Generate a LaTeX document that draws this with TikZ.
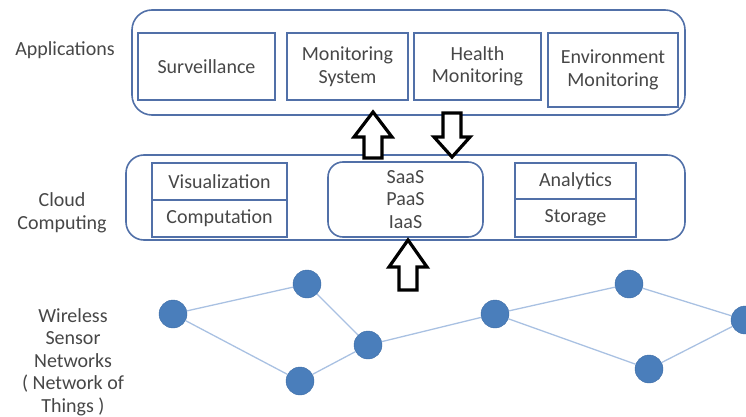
\documentclass[tikz,border=0pt]{standalone}
\usepackage{fontspec}
\setmainfont{Carlito}
\usetikzlibrary{shapes.misc}

\definecolor{boxblue}{HTML}{5170A8}
\definecolor{nodeblue}{HTML}{4A7EBB}
\definecolor{nodeedge}{HTML}{3D6CA5}
\definecolor{linkblue}{HTML}{A9C1E2}
\definecolor{textgray}{HTML}{474747}

\begin{document}
\begin{tikzpicture}[%
        x=1pt, y=-1pt,
        layer/.style={
            % the shape:
            rectangle,
            rounded corners=20pt,
            % the rest:
            draw=boxblue,
            line width=1.6pt,
            inner sep=0pt,
        },
        app/.style={
            rectangle,
            draw=boxblue,
            line width=1.6pt,
            align=center,
            inner sep=0pt,
        },
        sensor/.style={
            circle,
            fill=nodeblue,
            draw=nodeedge,
            minimum size=28pt,
            inner sep=0pt,
        },
        link/.style={draw=linkblue, line width=1.3pt},
        blockarrow/.style={draw=black, line width=3.2pt, fill=white, line join=miter},
        tag/.style={align=center},
        font=\fontsize{20}{22.5}\selectfont, text=textgray
    ]
    \useasboundingbox (0,0) rectangle (746,417);

    % applications
    \node[tag] (appstag) at (65,50) {Applications};
    \node[layer, minimum width=553pt, minimum height=105pt] (apps) at (408.5,62.5) {};
    \node[app, minimum width=137pt, minimum height=67pt] (surv) at (206.5,66.5) {Surveillance};
    \node[app, minimum width=121pt, minimum height=67pt] (monsys) at (347.5,66.5) {Monitoring\\System};
    \node[app, minimum width=127pt, minimum height=67pt] (health) at (477.5,66.5) {Health\\Monitoring};
    \node[app, minimum width=130pt, minimum height=74pt] (envmon) at (613,70) {Environment\\Monitoring};

    % cloud
    \node[tag] (cloudtag) at (62,213) {Cloud\\Computing};
    \node[layer, rounded corners=18pt, minimum width=559pt, minimum height=85pt] (cloud) at (405.5,197.5) {};
    \node[app, minimum width=135pt, minimum height=37pt] (visual) at (219.5,181.5) {Visualization};
    \node[app, minimum width=135pt, minimum height=37pt] (comput) at (219.5,218.5) {Computation};
    \node[layer, rounded corners=15pt, minimum width=155pt, minimum height=75pt, align=center] (services) at (405.5,199.5) {SaaS\\PaaS\\IaaS};
    \node[app, minimum width=121pt, minimum height=36pt] (analytics) at (575.5,181) {Analytics};
    \node[app, minimum width=121pt, minimum height=38pt] (storage) at (575.5,218) {Storage};

    % arrows between the layers
    \draw[blockarrow] (364,158) -- (364,137) -- (354,137) -- (373,112) -- (392,137) -- (382,137) -- (382,158) -- cycle;
    \draw[blockarrow] (443,113) -- (443,137) -- (434,137) -- (452,157) -- (470,137) -- (461,137) -- (461,113) -- cycle;
    \draw[blockarrow] (399,290) -- (399,267) -- (389,267) -- (408,240) -- (427,267) -- (417,267) -- (417,290) -- cycle;

    % sensor network
    \node[tag] (wsntag) at (73,362) {Wireless\\Sensor\\Networks\\( Network of\\Things )};
    \node[sensor] (s1) at (173,314) {};
    \node[sensor] (s2) at (307,284) {};
    \node[sensor] (s3) at (368,345) {};
    \node[sensor] (s4) at (300,381) {};
    \node[sensor] (s5) at (495,314) {};
    \node[sensor] (s6) at (629,284) {};
    \node[sensor] (s7) at (649,369) {};
    \node[sensor] (s8) at (745,320) {};
    \foreach \a/\b in {s1/s2, s1/s4, s2/s3, s4/s3, s3/s5, s5/s6, s5/s7, s6/s8, s7/s8}
        \draw[link] (\a) -- (\b);
\end{tikzpicture}
\end{document}
